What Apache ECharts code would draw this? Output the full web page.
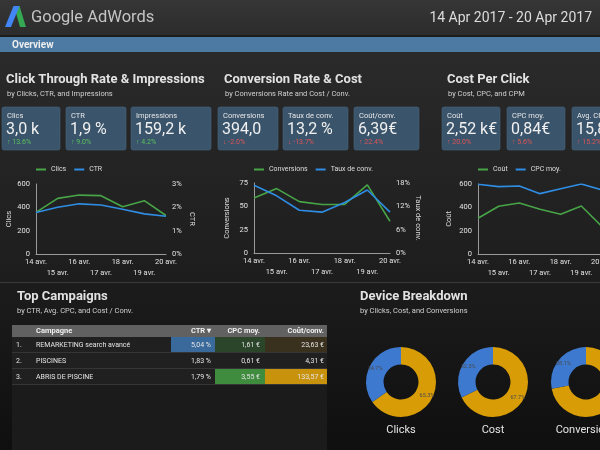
<!DOCTYPE html>
<html><head><meta charset="utf-8">
<script src="https://cdn.jsdelivr.net/npm/echarts@6/dist/echarts.min.js"></script>
<style>html,body{margin:0;padding:0;background:#161616}#c{width:600px;height:450px}</style>
</head><body><div id="c"></div>
<script>
// ---------- data ----------
const days = ['14 avr.','15 avr.','16 avr.','17 avr.','18 avr.','19 avr.','20 avr.'];
const clics = [357,477,505,500,405,457,330];
const ctr = [1.78,2.0,2.15,2.1,1.92,1.72,1.62];
const conversions = [59,69,55,52,52,73,34];
const tauxConv = [17.4,14.7,11.0,10.5,13.0,16.2,10.5];
const cout = [306,409,437,383,340,411,234];
const cpcMoy = [0.896,0.866,0.874,0.776,0.84,0.9,0.823];

const sectionTitles = ['Click Through Rate & Impressions','Conversion Rate & Cost','Cost Per Click'];
const sectionSubtitles = ['by Clicks, CTR, and Impressions','by Conversions Rate and Cost / Conv.','by Cost, CPC, and CPM'];
const kpiNames = ['Clics','CTR','Impressions','Conversions','Taux de conv.','Coût/conv.','Coût','CPC moy.','Avg. CPM'];
const kpiValues = ['3,0 k','1,9 %','159,2 k','394,0','13,2 %','6,39€','2,52 k€','0,84€','15,85€'];
const kpiDeltas = [13.6, 9.0, 4.2, -2.0, -13.7, 22.4, 20.0, 5.6, 15.2];
const kpiHigherIsBetter = [true,true,true,true,true,false,false,false,false];

const tableHeaders = ['Campagne','CTR ▾','CPC moy.','Coût/conv.'];
const campaigns = ['REMARKETING search avancé','PISCINES','ABRIS DE PISCINE'];
const campCtr = [5.04,1.83,1.79];
const campCpc = [1.61,0.61,3.55];
const campCoutConv = [23.63,4.31,133.57];

const deviceNames = ['Ordinateurs','Mobiles'];
const deviceClicks = [65.3,34.7];
const deviceCost = [67.7,32.3];
const deviceConv = [71.9,28.1];
const pieTitles = ['Clicks','Cost','Conversions'];

// ---------- layout / style ----------
const FF = 'Roboto, "Noto Sans", sans-serif';
const GREEN = '#47a447', BLUE = '#2f8de4', ORANGE = '#d89c07', PBLUE = '#3d79cf';
const sectionX = [6, 224, 447];
const cardBoxes = [[2,58],[66,60],[131,80],[218,60],[283,65],[354,65],[442,58],[507,58],[572,64]];
const grids = [
  {left:36, top:184, width:130, height:70, outerBoundsMode:'none', containLabel:false},
  {left:254, top:183, width:136, height:70, outerBoundsMode:'none', containLabel:false},
  {left:478, top:184, width:124, height:70, outerBoundsMode:'none', containLabel:false}
];
const pieCenters = [[401,382],[493,382],[586,382]];

function T(x,y,text,size,color,opt){
  opt = opt||{};
  return {type:'text', z:10, style:{x:x,y:y,text:text,fill:color,fontSize:size,fontFamily:FF,
    fontWeight:opt.bold?'bold':'normal', textAlign:opt.align||'left', textVerticalAlign:'middle'}};
}
function R(x,y,w,h,fill,opt){
  opt=opt||{};
  return {type:'rect', z:opt.z||0, shape:{x:x,y:y,width:w,height:h,r:opt.r||0},
    style:{fill:fill, stroke:opt.stroke||null, lineWidth:opt.lw||0, opacity:opt.opacity==null?1:opt.opacity}};
}

const G = [];
G.push(R(0,0,600,450,'#141414',{z:0}));
G.push(R(0,0,600,35,new echarts.graphic.LinearGradient(0,0,0,1,[{offset:0,color:'#363636'},{offset:1,color:'#2c2c2c'}]),{z:0}));
G.push(R(0,35,600,2,'#1c1c1c',{z:0}));
G.push(R(0,37,600,15,'#4d7aa3',{z:0}));
G.push(R(0,52,600,230,new echarts.graphic.LinearGradient(0,0,0,1,[{offset:0,color:'#2a2a2a'},{offset:1,color:'#1d1d1d'}]),{z:0}));
G.push(R(0,282,600,1,'#3a3a3a',{z:0}));
G.push(R(0,283,600,167,new echarts.graphic.LinearGradient(0,0,0,1,[{offset:0,color:'#1c1c1c'},{offset:1,color:'#0f0f0f'}]),{z:0}));

// logo
G.push({type:'polygon', z:5, shape:{points:[[14,6],[19.5,6],[26,27],[20,27]]}, style:{fill:'#34a853'}});
G.push({type:'polygon', z:6, shape:{points:[[13.5,6],[19.5,6],[11,27],[5,27]]}, style:{fill:'#4285f4'}});
G.push(T(31,18,'Google AdWords',16.5,'#c4c4c4'));
G.push(T(592,18,'14 Apr 2017 - 20 Apr 2017',14,'#dcdcdc',{align:'right'}));
G.push(T(12,45,'Overview',10,'#eeeeee',{bold:true}));

// section headers
sectionTitles.forEach((t,i)=>{
  G.push(T(sectionX[i],80,t,13,'#e2e2e2',{bold:true}));
  G.push(T(sectionX[i]+1,94,sectionSubtitles[i],7.5,'#d0d0d0'));
});

// KPI cards
kpiNames.forEach((n,i)=>{
  const [x,w] = cardBoxes[i];
  G.push(R(x,107,w,43,'#3a546b',{r:2,stroke:'#48647e',lw:0.6,z:2}));
  G.push(T(x+5,116.5,n,7.5,'#e6e6e6'));
  G.push(T(x+4,130,kpiValues[i],16,'#f0f0f0'));
  const d = kpiDeltas[i];
  const good = (d>0) === kpiHigherIsBetter[i];
  G.push(T(x+5,142,(d>0?'↑ ':'↓ ')+d.toFixed(1)+'%',7,good?'#5cc05c':'#e05555'));
});

// Top campaigns
G.push(T(17,297,'Top Campaigns',13,'#e2e2e2',{bold:true}));
G.push(T(17,311,'by CTR, Avg. CPC, and Cost / Conv.',7.5,'#d0d0d0'));
G.push(T(360,297,'Device Breakdown',13,'#e2e2e2',{bold:true}));
G.push(T(360,311,'by Clicks, Cost, and Conversions',7.5,'#d0d0d0'));

const tX = 12, tW = 315, hTop = 325, hH = 12, rowH = 16;
const colBounds = [[171,215],[215,265],[265,327]];
const colColors = ['#3a6a9c','#3f8c3f','#c8920c'];
const colRightX = [211,260,324];
G.push(R(tX,hTop,tW,450-hTop,'#1b1b1b',{z:1}));
G.push(R(tX,hTop,tW,hH,'#616161',{z:2}));
G.push(T(36,hTop+6,tableHeaders[0],7.5,'#f0f0f0',{bold:true}));
for(let c=1;c<4;c++) G.push(T(colRightX[c-1],hTop+6,tableHeaders[c],7.5,'#f0f0f0',{bold:true,align:'right'}));
const cols = [campCtr,campCpc,campCoutConv];
const units = [' %',' €',' €'];
campaigns.forEach((name,r)=>{
  const y = hTop+hH+r*rowH;
  G.push(R(tX,y,tW,rowH,'#202020',{z:2}));
  G.push(R(tX,y+rowH-1,tW,1,'#353535',{z:3}));
  cols.forEach((col,c)=>{
    const mn = Math.min(...col), mx = Math.max(...col);
    const t = (col[r]-mn)/(mx-mn);
    if(t>0.02) G.push(R(colBounds[c][0],y,colBounds[c][1]-colBounds[c][0],rowH-1,colColors[c],{z:4,opacity:t}));
    G.push(T(colRightX[c],y+rowH/2,col[r].toFixed(2).replace('.',',')+units[c],7,'#e4e4e4',{align:'right'}));
  });
  G.push(T(16,y+rowH/2,(r+1)+'.',7,'#e4e4e4'));
  G.push(T(36,y+rowH/2,name,7,'#e4e4e4'));
});

pieTitles.forEach((t,i)=>{
  G.push(T(pieCenters[i][0],430,t,11,'#e4e4e4',{align:'center'}));
});

// ---------- chart ----------
const lineSets = [
  {names:['Clics','CTR'], data:[clics,ctr], left:{min:0,max:600,interval:200,name:'Clics',gap:20,fmt:'{value}'}, right:{min:0,max:3,interval:1,name:'CTR',gap:22,fmt:'{value}%'}},
  {names:['Conversions','Taux de conv.'], data:[conversions,tauxConv], left:{min:0,max:75,interval:25,name:'Conversions',gap:23,fmt:'{value}'}, right:{min:0,max:18,interval:6,name:'Taux de conv.',gap:22,fmt:'{value}%'}},
  {names:['Coût','CPC moy.'], data:[cout,cpcMoy], left:{min:0,max:600,interval:200,name:'Coût',gap:25,fmt:'{value}'}, right:{min:0,max:0.9,interval:0.3,name:'CPC moy.',gap:22,fmt:'{value}€'}}
];

const xAxis=[], yAxis=[], series=[], legend=[];
lineSets.forEach((s,i)=>{
  xAxis.push({type:'category', gridIndex:i, data:days, boundaryGap:false, z:20,
    axisLine:{show:true,lineStyle:{color:'#9a9a9a',width:1}}, axisTick:{show:false},
    axisLabel:{interval:0,fontSize:7.5,color:'#e2e2e2',fontFamily:FF,margin:3,lineHeight:10.5,hideOverlap:false,
      formatter:(v,idx)=> idx%2 ? '\n'+v : v}});
  [['left',s.left],['right',s.right]].forEach(([pos,a])=>{
    yAxis.push({type:'value', gridIndex:i, position:pos, min:a.min, max:a.max, interval:a.interval, z:20,
      axisLine:{show:pos==='left',lineStyle:{color:'#9a9a9a',width:1}}, axisTick:{show:false}, splitLine:{show:false},
      axisLabel:{fontSize:7.5,color:'#e2e2e2',fontFamily:FF,margin:6,formatter:a.fmt},
      name:a.name, nameLocation:'middle', nameGap:a.gap, nameRotate:pos==='left'?90:-90,
      nameTextStyle:{fontSize:7.5,color:'#dddddd',fontFamily:FF}});
  });
  s.names.forEach((n,k)=>{
    series.push({type:'line', name:n, xAxisIndex:i, yAxisIndex:i*2+k, data:s.data[k],
      showSymbol:false, symbol:'none', lineStyle:{width:1.6,color:k?BLUE:GREEN}, itemStyle:{color:k?BLUE:GREEN},
      emphasis:{disabled:true}, z:21});
  });
  legend.push({data:s.names, left:grids[i].left, top:166, icon:'rect', itemWidth:10, itemHeight:2, itemGap:8, z:20,
    textStyle:{color:'#dddddd',fontSize:7,fontFamily:FF}, padding:0, selectedMode:false});
});

const pieData = [deviceClicks,deviceCost,deviceConv];
pieData.forEach((d,i)=>{
  series.push({type:'pie', center:pieCenters[i], radius:[17.5,35], startAngle:90, clockwise:true,
    data:d.map((v,k)=>({name:deviceNames[k], value:v, itemStyle:{color:k?PBLUE:ORANGE}})),
    label:{show:true, position:'inside', fontSize:5.5, color:'#4a4a4a', fontFamily:FF,
      formatter:p=>p.value.toFixed(1)+'%'},
    labelLine:{show:false}, emphasis:{disabled:true}, silent:true, z:21});
});

const chart = echarts.init(document.getElementById('c'), null, {renderer:'canvas'});
chart.setOption({
  animation:false,
  backgroundColor:'#141414',
  graphic:{elements:G},
  grid:grids,
  legend:legend,
  xAxis:xAxis, yAxis:yAxis, series:series
});
</script></body></html>
